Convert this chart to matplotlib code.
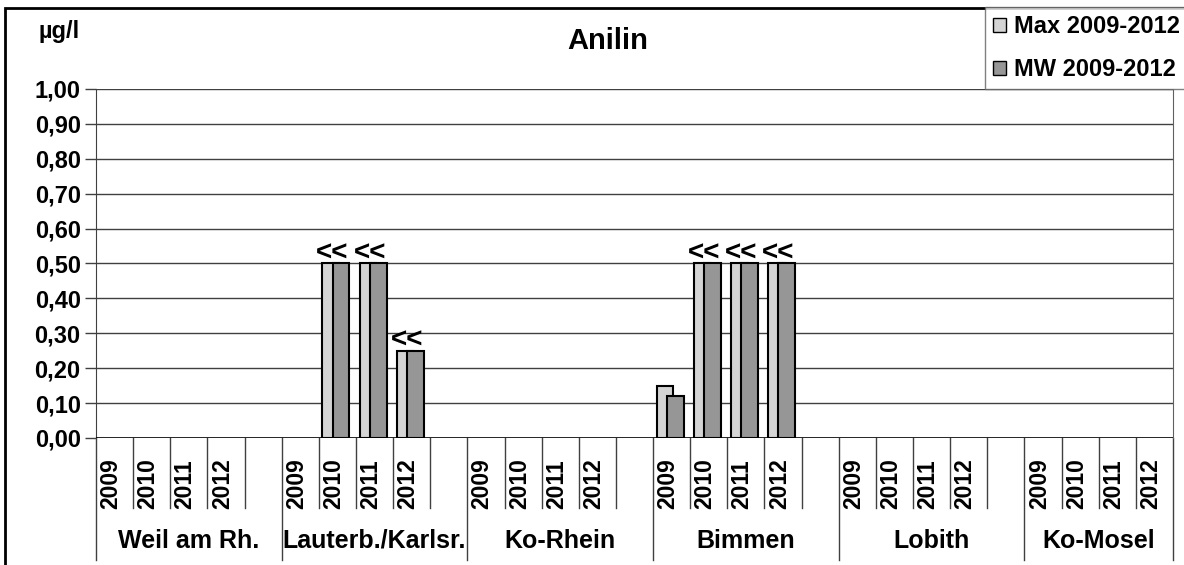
import numpy as np
import matplotlib
matplotlib.use('Agg')
import matplotlib.pyplot as plt
from matplotlib.patches import Rectangle, Patch

plt.rcParams['font.family'] = ['Liberation Sans', 'DejaVu Sans']
plt.rcParams['font.weight'] = 'bold'

# Daten
stationen = ['Weil am Rh.', 'Lauterb./Karlsr.', 'Ko-Rhein', 'Bimmen', 'Lobith', 'Ko-Mosel']
jahre = ['2009', '2010', '2011', '2012']
nan = np.nan
max_werte = [[nan, nan, nan, nan],
             [nan, 0.50, 0.50, 0.25],
             [nan, nan, nan, nan],
             [0.15, 0.50, 0.50, 0.50],
             [nan, nan, nan, nan],
             [nan, nan, nan, nan]]
mw_werte = [[nan, nan, nan, nan],
            [nan, 0.50, 0.50, 0.25],
            [nan, nan, nan, nan],
            [0.12, 0.50, 0.50, 0.50],
            [nan, nan, nan, nan],
            [nan, nan, nan, nan]]
# "<<" = Werte unter Bestimmungsgrenze
kleiner = [[0, 0, 0, 0],
           [0, 1, 1, 1],
           [0, 0, 0, 0],
           [0, 1, 1, 1],
           [0, 0, 0, 0],
           [0, 0, 0, 0]]

farbe_max = '#d4d4d4'
farbe_mw = '#969696'

fig = plt.figure(figsize=(11.84, 5.65), dpi=100)
ax = fig.add_axes([0.0811, 0.2248, 0.9096, 0.6177])

n_slots = len(stationen) * 5 - 1
breite = 0.45
for g in range(len(stationen)):
    for j in range(len(jahre)):
        x = g * 5 + j
        if not np.isnan(max_werte[g][j]):
            ax.bar(x - 0.18, max_werte[g][j], breite, color=farbe_max, edgecolor='black', linewidth=1.5, zorder=3)
        if not np.isnan(mw_werte[g][j]):
            ax.bar(x + 0.10, mw_werte[g][j], breite, color=farbe_mw, edgecolor='black', linewidth=1.5, zorder=4)
        if kleiner[g][j]:
            top = np.nanmax([max_werte[g][j], mw_werte[g][j]])
            ax.text(x - 0.13, top - 0.008, '<<', ha='center', va='bottom', fontsize=20, fontweight='bold', zorder=5)

ax.set_xlim(-0.5, n_slots - 0.5)
ax.set_ylim(0, 1.0)
ax.set_yticks(np.arange(0, 1.01, 0.1))
ax.set_yticklabels([('%.2f' % v).replace('.', ',') for v in np.arange(0, 1.01, 0.1)], fontsize=17, fontweight='bold')
ax.tick_params(axis='y', length=8, width=1, color='#404040', pad=3)
ax.set_xticks([])
for v in np.arange(0.1, 1.01, 0.1):
    ax.axhline(v, color='#404040', linewidth=1, zorder=1)
ax.axhline(0, color='black', linewidth=1.2, zorder=6)

for s in ['top', 'bottom']:
    ax.spines[s].set_visible(False)
ax.spines['left'].set_color('#404040')
ax.spines['right'].set_color('#606060')

# Kategorie-Achse unten
trans = ax.get_xaxis_transform()
for i in range(n_slots + 1):
    xb = i - 0.5
    lang = (i % 5 == 0) or i == n_slots
    y_end = -0.35 if lang else -0.20
    ax.plot([xb, xb], [0, y_end], color='#404040', linewidth=1, transform=trans, clip_on=False)
for g, name in enumerate(stationen):
    for j, jahr in enumerate(jahre):
        ax.text(g * 5 + j - 0.1, -0.132, jahr, rotation=90, ha='center', va='center',
                fontsize=16.5, fontweight='bold', transform=trans)
    mitte = g * 5 + 2.0 if g < len(stationen) - 1 else g * 5 + 1.5
    ax.text(mitte, -0.295, name, ha='center', va='center', fontsize=18, fontweight='bold', transform=trans)

fig.text(0.050, 0.945, 'µg/l', ha='center', va='center', fontsize=17, fontweight='bold')
fig.text(0.513, 0.928, 'Anilin', ha='center', va='center', fontsize=21, fontweight='bold')

# Rahmen
fig.patches.append(Rectangle((5 / 1184, -0.1), 1.2, 1.1 - 8 / 565, transform=fig.transFigure,
                             fill=False, edgecolor='black', linewidth=2, zorder=0))

handles = [Patch(facecolor=farbe_max, edgecolor='black', label='Max 2009-2012'),
           Patch(facecolor=farbe_mw, edgecolor='black', label='MW 2009-2012')]
leg = fig.legend(handles=handles, loc='upper right', bbox_to_anchor=(1.004, 0.988),
                 fontsize=17, frameon=True, fancybox=False, handlelength=0.55, handleheight=0.55,
                 handletextpad=0.35, labelspacing=0.85, borderpad=0.35, borderaxespad=0)
leg.get_frame().set_edgecolor('#606060')
leg.get_frame().set_linewidth(1)
for t in leg.get_texts():
    t.set_fontweight('bold')

fig.savefig('out.png', dpi=100)
